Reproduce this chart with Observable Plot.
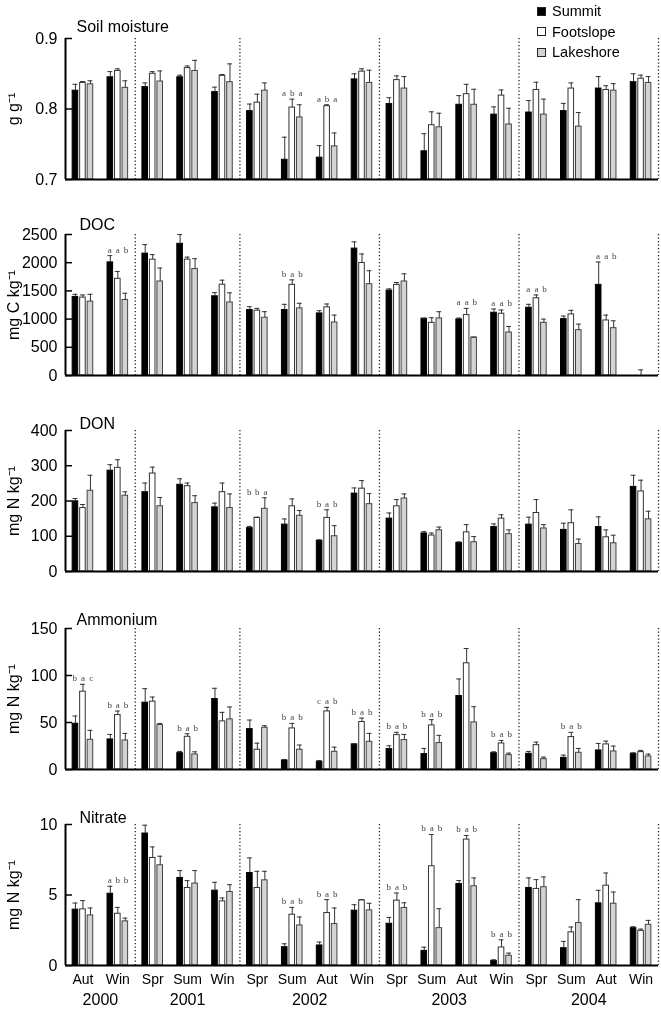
<!DOCTYPE html>
<html>
<head>
<meta charset="utf-8">
<script src="https://cdn.jsdelivr.net/npm/d3@7"></script>
<script src="https://cdn.jsdelivr.net/npm/@observablehq/plot@0.6"></script>
<style>
  body { margin: 0; background: #fff; font-family: "Liberation Sans", Arial, sans-serif; }
  #wrap { position: relative; width: 661px; height: 1013px; overflow: hidden; }
  #charts svg { will-change: transform; }
  #legend { position: absolute; left: 537px; top: 1px; z-index: 2; font-size: 14.5px; color: #000; }
  #legend .row { display: flex; align-items: center; height: 20.5px; }
  #legend .sw { width: 7px; height: 7px; border: 1px solid #222; margin-right: 6px; }
</style>
</head>
<body>
<div id="wrap">
  <div id="legend"></div>
  <div id="charts"></div>
</div>
<script>
// ---------- categories ----------
const years = ["2000", "2001", "2002", "2003", "2004"];
const seasonsByYear = [
  ["Aut", "Win"],
  ["Spr", "Sum", "Win"],
  ["Spr", "Sum", "Aut", "Win"],
  ["Spr", "Sum", "Aut", "Win"],
  ["Spr", "Sum", "Aut", "Win"]
];
const sites = ["Summit", "Footslope", "Lakeshore"];

// ---------- Soil moisture (g g-1): [Summit, Footslope, Lakeshore] ----------
const soilMean = [
  [0.826, 0.845, 0.831, 0.845, 0.824, 0.797, 0.728, 0.731, 0.842, 0.807, 0.740, 0.806, 0.792, 0.795, 0.797, 0.829, 0.838],
  [0.837, 0.854, 0.850, 0.858, 0.847, 0.809, 0.802, 0.804, 0.853, 0.841, 0.777, 0.821, 0.819, 0.827, 0.829, 0.827, 0.843],
  [0.835, 0.830, 0.839, 0.854, 0.838, 0.826, 0.788, 0.747, 0.837, 0.829, 0.774, 0.806, 0.778, 0.792, 0.775, 0.826, 0.837]
];
const soilSE = [
  [0.009, 0.008, 0.006, 0.003, 0.007, 0.010, 0.032, 0.017, 0.008, 0.009, 0.025, 0.013, 0.011, 0.017, 0.011, 0.017, 0.012],
  [0.002, 0.003, 0.003, 0.003, 0.002, 0.012, 0.012, 0.002, 0.004, 0.006, 0.019, 0.014, 0.008, 0.011, 0.008, 0.006, 0.005],
  [0.005, 0.010, 0.015, 0.015, 0.026, 0.011, 0.018, 0.019, 0.018, 0.017, 0.020, 0.022, 0.023, 0.022, 0.020, 0.010, 0.009]
];
const soilLetters = [null, null, null, null, null, null, "aba", "aba", null, null, null, null, null, null, null, null, null];

// ---------- DOC (mg C kg-1) ----------
const docMean = [
  [1393, 2006, 2161, 2335, 1405, 1161, 1161, 1101, 2250, 1506, 1006, 994, 1113, 1202, 1000, 1607, null],
  [1381, 1714, 2054, 2054, 1610, 1149, 1607, 1208, 1994, 1607, 934, 1071, 1095, 1369, 1083, 976, 0],
  [1310, 1339, 1667, 1887, 1295, 1024, 1190, 940, 1619, 1667, 1012, 673, 762, 934, 804, 839, null]
];
const docSE = [
  [47, 119, 160, 165, 65, 59, 101, 48, 119, 30, 12, 24, 66, 60, 54, 405, null],
  [47, 131, 89, 45, 80, 41, 89, 60, 161, 42, 90, 119, 66, 59, 72, 95, 100],
  [130, 119, 238, 184, 170, 107, 90, 131, 238, 136, 119, 7, 107, 66, 107, 131, null]
];
const docLetters = [null, "aab", null, null, null, null, "bab", null, null, null, null, "aab", "aab", "aab", null, "aab", null];

// ---------- DON (mg N kg-1) ----------
const donMean = [
  [199, 286, 225, 246, 182, 123, 133, 87, 221, 150, 108, 81, 126, 133, 118, 126, 240],
  [180, 294, 278, 242, 225, 152, 185, 152, 235, 185, 102, 111, 150, 166, 137, 97, 227],
  [229, 215, 185, 194, 180, 178, 158, 100, 191, 207, 117, 83, 106, 122, 78, 80, 148]
];
const donSE = [
  [8, 17, 26, 17, 12, 5, 16, 3, 16, 16, 5, 3, 9, 21, 19, 29, 33],
  [10, 23, 18, 9, 26, 2, 21, 23, 23, 19, 7, 22, 11, 38, 38, 21, 32],
  [44, 11, 25, 21, 40, 31, 15, 30, 30, 13, 9, 16, 12, 11, 14, 23, 23]
];
const donLetters = [null, null, null, null, null, "bba", null, "bab", null, null, null, null, null, null, null, null, null];

// ---------- Ammonium (mg N kg-1) ----------
const nh4Mean = [
  [48.7, 32.0, 71.1, 17.4, 75.0, 43.0, 9.6, 8.2, 26.7, 21.7, 16.4, 78.2, 17.4, 16.7, 12.4, 20.3, 16.7],
  [82.8, 57.9, 72.2, 34.8, 51.2, 21.0, 43.7, 61.8, 50.5, 36.6, 46.9, 113.0, 27.7, 25.9, 34.5, 26.7, 18.5],
  [31.6, 30.9, 47.3, 16.0, 53.3, 44.4, 21.0, 18.8, 29.5, 31.3, 28.1, 50.1, 15.3, 11.0, 17.8, 19.2, 13.9]
];
const nh4SE = [
  [8.2, 5.3, 14.9, 1.8, 11.4, 9.6, 1.1, 1.4, 0.7, 3.5, 6.0, 18.1, 1.4, 2.5, 2.9, 7.4, 1.1],
  [7.8, 4.3, 4.9, 3.2, 9.6, 7.0, 5.3, 4.3, 4.2, 2.9, 6.1, 15.7, 3.2, 3.2, 5.0, 3.5, 1.8],
  [10.0, 7.5, 1.7, 2.8, 13.2, 2.2, 5.0, 5.0, 8.9, 6.0, 8.2, 16.7, 2.1, 2.2, 4.6, 5.7, 2.5]
];
const nh4Letters = ["bac", "bab", null, "bab", null, null, "bab", "cab", "bab", "bab", "bab", null, "bab", null, "bab", null, null];

// ---------- Nitrate (mg N kg-1) ----------
const no3Mean = [
  [3.96, 5.09, 9.36, 6.21, 5.31, 6.56, 1.30, 1.42, 3.89, 2.96, 1.04, 5.78, 0.33, 5.50, 1.23, 4.41, 2.65],
  [3.98, 3.67, 7.63, 5.50, 4.55, 5.50, 3.60, 3.72, 4.62, 4.60, 7.04, 8.93, 1.28, 5.43, 2.35, 5.66, 2.46],
  [3.55, 3.13, 7.11, 5.81, 5.21, 6.04, 2.84, 2.94, 3.91, 4.08, 2.65, 5.62, 0.69, 5.55, 3.01, 4.38, 2.89]
];
const no3SE = [
  [0.47, 0.53, 0.59, 0.52, 0.59, 1.07, 0.24, 0.24, 0.42, 0.45, 0.26, 0.24, 0.07, 0.71, 0.48, 0.92, 0.10],
  [0.62, 0.45, 0.78, 0.52, 0.24, 1.18, 0.52, 0.95, 0.05, 0.54, 2.25, 0.29, 0.54, 0.66, 0.38, 0.90, 0.12],
  [0.53, 0.23, 0.64, 0.92, 0.52, 0.64, 0.60, 1.14, 0.50, 0.37, 1.38, 0.59, 0.19, 0.73, 1.66, 0.83, 0.31]
];
const no3Letters = [null, "abb", null, null, null, null, "bab", "bab", null, "bab", "bab", "bab", "bab", null, null, null, null];

// ---------- panel definitions ----------
const panels = [
  { title: "Soil moisture", unit: "g g\u207B\u00B9", domain: [0.7, 0.9], ticks: [0.7, 0.8, 0.9], fmt: d3.format(".1f"), mean: soilMean, se: soilSE, letters: soilLetters },
  { title: "DOC", unit: "mg C kg\u207B\u00B9", domain: [0, 2500], ticks: [0, 500, 1000, 1500, 2000, 2500], fmt: d3.format("d"), mean: docMean, se: docSE, letters: docLetters },
  { title: "DON", unit: "mg N kg\u207B\u00B9", domain: [0, 400], ticks: [0, 100, 200, 300, 400], fmt: d3.format("d"), mean: donMean, se: donSE, letters: donLetters },
  { title: "Ammonium", unit: "mg N kg\u207B\u00B9", domain: [0, 150], ticks: [0, 50, 100, 150], fmt: d3.format("d"), mean: nh4Mean, se: nh4SE, letters: nh4Letters },
  { title: "Nitrate", unit: "mg N kg\u207B\u00B9", domain: [0, 10], ticks: [0, 5, 10], fmt: d3.format("d"), mean: no3Mean, se: no3SE, letters: no3Letters }
];

// ---------- styling / layout (not data) ----------
const siteFill = ["#000000", "#ffffff", "#d3d3d3"];
const siteStroke = ["#000000", "#333333", "#444444"];
const svgHeights = [196, 196, 198, 196, 227];
const titleDy = [12, 10, 7, 9, 7];
const titleDx = [11, 14, 14, 11, 14];
const FONT = "Liberation Sans, Arial, Helvetica, sans-serif";

// derived period structure
const periods = [];
const yearRows = [];
const yearEnds = [];
years.forEach((y, k) => {
  const start = periods.length;
  seasonsByYear[k].forEach(s => periods.push({ year: y, season: s, c: periods.length + 0.5 }));
  yearEnds.push(periods.length);
  yearRows.push({ year: y, mid: start + seasonsByYear[k].length / 2 });
});
const nP = periods.length;
const off = 0.215, half = 0.08, cap = 0.07, lsp = 0.235;

function makePanel(p, idx) {
  const isLast = idx === panels.length - 1;
  const h = svgHeights[idx];
  const mt = 38, mb = h - mt - 141;
  const y0 = p.domain[0];
  const rows = [];
  for (let s = 0; s < sites.length; s++) {
    for (let i = 0; i < nP; i++) {
      const m = p.mean[s][i];
      if (m == null) continue;
      const e = p.se[s][i] || 0;
      rows.push({ i, s, xc: i + 0.5 + (s - 1) * off, mean: m, top: m + e, se: e });
    }
  }
  const letterRows = [];
  p.letters.forEach((L, i) => {
    if (!L) return;
    const top = d3.max(rows.filter(r => r.i === i), r => r.top);
    [...L].forEach((ch, s) => letterRows.push({ xc: i + 0.5 + (s - 1) * lsp, top, ch }));
  });

  const marks = [
    Plot.ruleX(yearEnds, { x: d => d, stroke: "#222", strokeWidth: 1.3, strokeDasharray: "1.2,2.3" }),
    Plot.rectY(rows.filter(r => r.mean > y0), {
      x1: d => d.xc - half, x2: d => d.xc + half,
      y1: () => y0, y2: "mean",
      fill: d => siteFill[d.s], stroke: d => siteStroke[d.s], strokeWidth: 1
    }),
    Plot.ruleX(rows.filter(r => r.se > 0), { x: "xc", y1: "mean", y2: "top", stroke: "#333", strokeWidth: 1 }),
    Plot.ruleY(rows.filter(r => r.se > 0), { y: "top", x1: d => d.xc - cap, x2: d => d.xc + cap, stroke: "#333", strokeWidth: 1 }),
    Plot.text(letterRows, { x: "xc", y: "top", text: "ch", dy: -6, fontSize: 9, fontFamily: "Liberation Serif, DejaVu Serif, serif", fill: "#444" }),
    Plot.ruleY(p.ticks, { y: d => d, x1: () => 0, x2: () => 0.2, stroke: "#000", strokeWidth: 1.5 }),
    Plot.axisY(p.ticks, { tickSize: 0, tickPadding: 8, tickFormat: p.fmt, fontSize: 16, label: null }),
    Plot.ruleX([0], { x: d => d, stroke: "#000", strokeWidth: 2 }),
    Plot.ruleY([y0], { y: d => d, stroke: "#000", strokeWidth: 2 }),
    Plot.text([p.title], { frameAnchor: "top-left", dx: titleDx[idx], dy: -titleDy[idx], textAnchor: "start", lineAnchor: "middle", fontSize: 16, fill: "#000" }),
    Plot.text([p.unit], { frameAnchor: "left", dx: -52, rotate: -90, textAnchor: "middle", fontSize: 16, fill: "#000" })
  ];
  if (isLast) {
    marks.push(Plot.axisX(periods.map(d => d.c), { tickSize: 0, tickPadding: 9, fontSize: 14, label: null, tickFormat: d => periods[Math.floor(d)].season }));
    marks.push(Plot.text(yearRows, { x: "mid", text: "year", frameAnchor: "bottom", dy: 39, fontSize: 16, fill: "#000" }));
  }

  return Plot.plot({
    width: 661,
    height: h,
    marginLeft: 65,
    marginRight: 3,
    marginTop: mt,
    marginBottom: mb,
    style: { fontFamily: FONT, fontSize: "16px", color: "#000", background: "transparent", overflow: "visible" },
    x: { type: "linear", domain: [0, nP], axis: null },
    y: { domain: p.domain, axis: null },
    marks
  });
}

const charts = document.getElementById("charts");
panels.forEach((p, idx) => charts.appendChild(makePanel(p, idx)));

// legend
const legend = document.getElementById("legend");
sites.forEach((s, k) => {
  const row = document.createElement("div");
  row.className = "row";
  const sw = document.createElement("span");
  sw.className = "sw";
  sw.style.background = siteFill[k];
  const t = document.createElement("span");
  t.textContent = s;
  row.appendChild(sw);
  row.appendChild(t);
  legend.appendChild(row);
});
</script>
</body>
</html>
